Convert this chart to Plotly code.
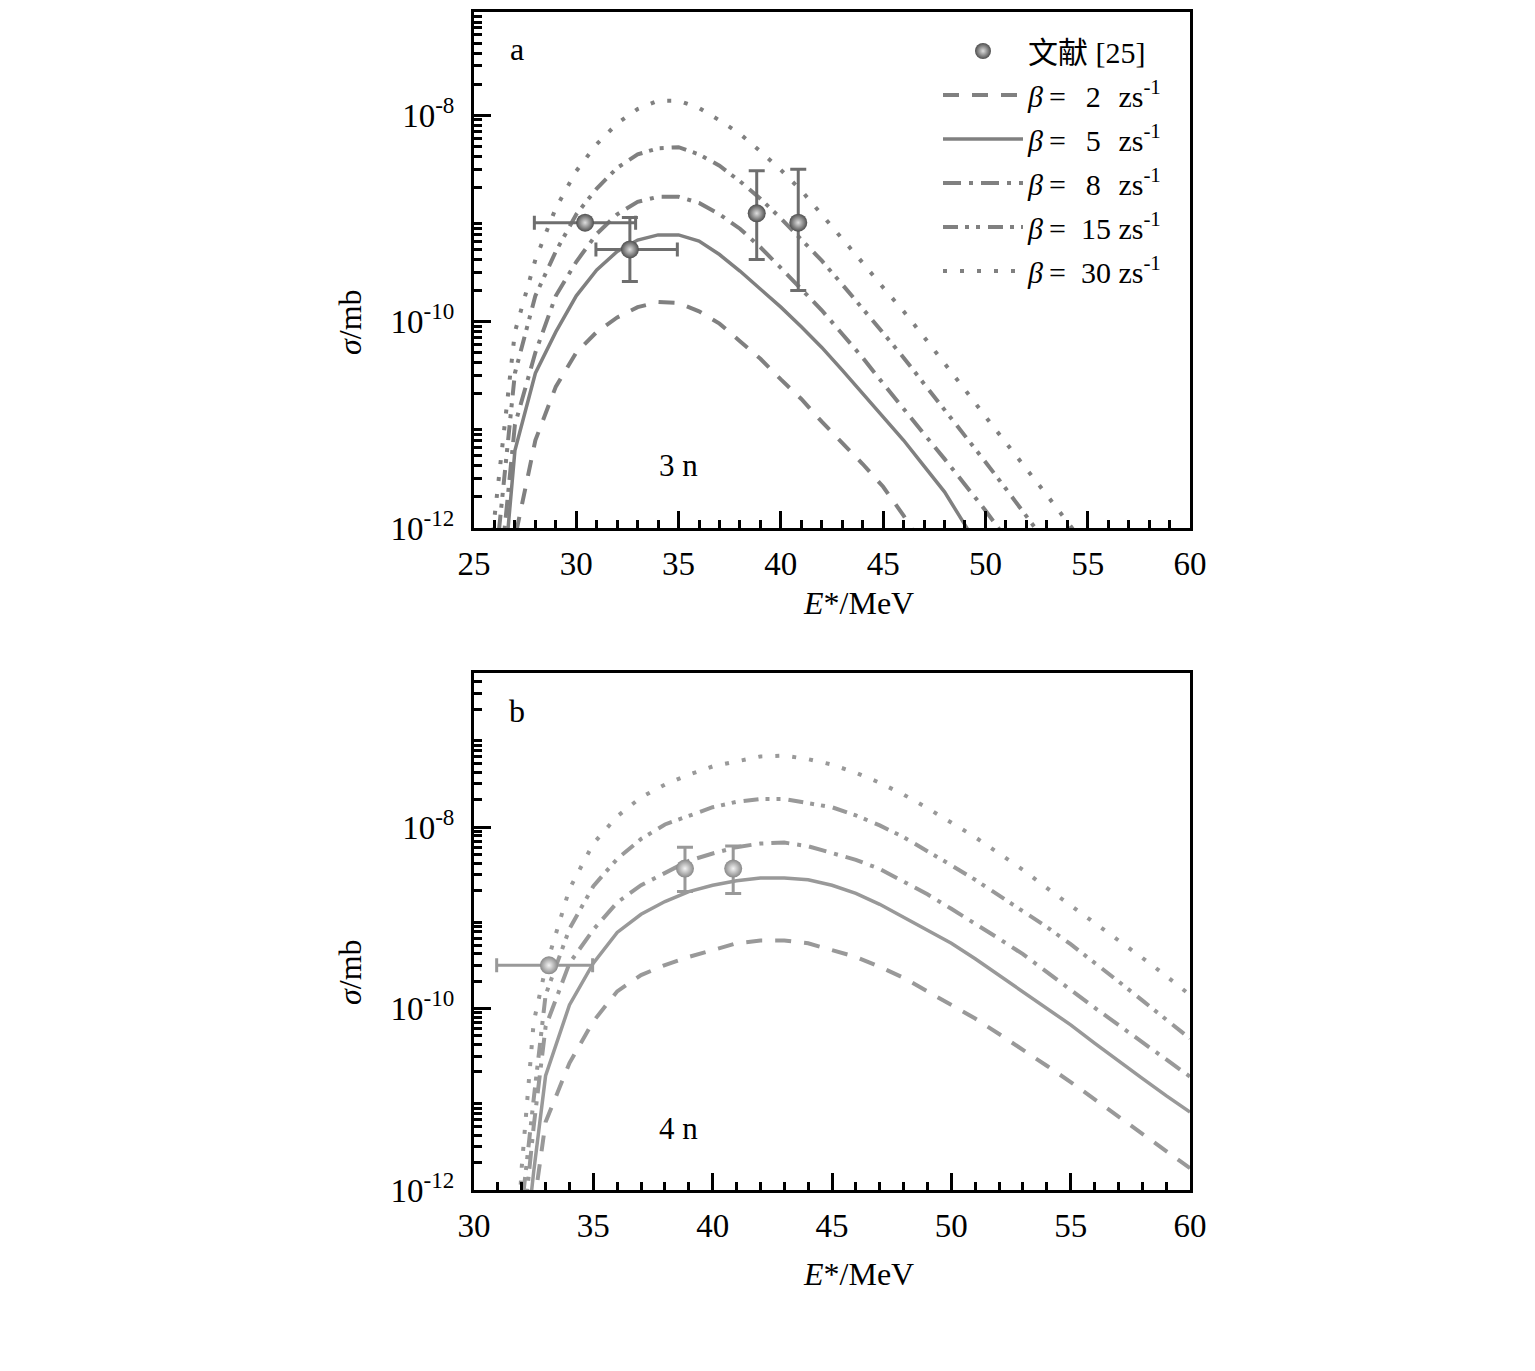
import plotly.graph_objects as go

W, H = 1535, 1371

# ---------------- data ----------------
# Panel a (3n): excitation energy grid, MeV
E_3n = list(range(25, 56))
# log10(sigma / mb) for each friction coefficient beta
lg_3n_b2 = [None, -14.0, -12.1, -11.15, -10.63, -10.3, -10.1, -9.96, -9.86, -9.81, -9.82,
            -9.90, -10.02, -10.19, -10.36, -10.56, -10.75, -10.97, -11.17, -11.38, -11.6,
            -11.88, -12.2, None, None, None, None, None, None, None, None]
lg_3n_b5 = [None, -13.5, -11.25, -10.5, -10.1, -9.75, -9.5, -9.32, -9.21, -9.16, -9.16,
            -9.22, -9.35, -9.51, -9.68, -9.86, -10.05, -10.25, -10.47, -10.7, -10.93,
            -11.15, -11.4, -11.65, -11.97, -12.3, None, None, None, None, None]
lg_3n_b8 = [None, -13.0, -11.0, -10.3, -9.75, -9.42, -9.15, -8.96, -8.84, -8.79, -8.79,
            -8.85, -8.96, -9.1, -9.28, -9.48, -9.68, -9.89, -10.12, -10.35, -10.6,
            -10.85, -11.09, -11.33, -11.58, -11.83, -12.1, None, None, None, None]
lg_3n_b15 = [None, -12.45, -10.5, -9.75, -9.32, -8.96, -8.71, -8.51, -8.38, -8.32, -8.31,
             -8.38, -8.49, -8.64, -8.81, -9.0, -9.2, -9.41, -9.64, -9.87, -10.11,
             -10.35, -10.6, -10.85, -11.1, -11.36, -11.62, -11.88, -12.15, None, None]
lg_3n_b30 = [-14.5, -11.9, -10.1, -9.4, -8.9, -8.54, -8.28, -8.08, -7.94, -7.86, -7.86,
             -7.93, -8.05, -8.18, -8.35, -8.53, -8.73, -8.96, -9.2, -9.43, -9.67,
             -9.9, -10.15, -10.4, -10.66, -10.92, -11.17, -11.43, -11.68, -11.94, -12.2]

# Panel b (4n)
E_4n = [31.5, 32, 32.5] + list(range(33, 61))
lg_4n_b2 = [None, -13.8, -12.2, -11.25, -10.6, -10.14, -9.81, -9.63, -9.52, -9.43, -9.35,
            -9.28, -9.25, -9.25, -9.28, -9.35, -9.43, -9.54, -9.66, -9.81, -9.96,
            -10.11, -10.28, -10.45, -10.63, -10.81, -11.0, -11.19, -11.38, -11.58, -11.76]
lg_4n_b5 = [None, -13.0, -11.8, -10.74, -9.96, -9.5, -9.16, -8.96, -8.82, -8.71, -8.64,
            -8.59, -8.56, -8.56, -8.58, -8.64, -8.73, -8.85, -8.99, -9.13, -9.28,
            -9.45, -9.63, -9.81, -10.0, -10.18, -10.38, -10.58, -10.77, -10.96, -11.14]
lg_4n_b8 = [None, -12.6, -11.3, -10.2, -9.5, -9.13, -8.83, -8.64, -8.5, -8.37, -8.29,
            -8.22, -8.18, -8.17, -8.21, -8.28, -8.36, -8.46, -8.6, -8.74, -8.9,
            -9.06, -9.23, -9.4, -9.6, -9.79, -9.99, -10.18, -10.37, -10.56, -10.75]
lg_4n_b15 = [-14.0, -12.2, -11.0, -9.85, -9.12, -8.65, -8.35, -8.13, -7.97, -7.87, -7.78,
             -7.72, -7.69, -7.69, -7.73, -7.78, -7.87, -7.98, -8.11, -8.26, -8.42,
             -8.58, -8.75, -8.92, -9.1, -9.29, -9.49, -9.7, -9.91, -10.12, -10.33]
lg_4n_b30 = [-14.0, -11.75, -10.15, -9.55, -8.68, -8.18, -7.88, -7.67, -7.53, -7.42, -7.33,
             -7.27, -7.22, -7.21, -7.25, -7.31, -7.40, -7.51, -7.64, -7.79, -7.95,
             -8.11, -8.29, -8.47, -8.67, -8.86, -9.05, -9.24, -9.44, -9.64, -9.85]

# Experimental data, Ref. [25]
exp3_E = [30.43, 32.62, 38.82, 40.85]
exp3_sig = [9.1e-10, 5.0e-10, 1.12e-9, 9.1e-10]
exp3_sig_hi = [9.1e-10, 1.02e-9, 2.9e-9, 3.0e-9]
exp3_sig_lo = [9.1e-10, 2.45e-10, 4.0e-10, 2.0e-10]
exp3_E_lo = [27.95, 30.96, 38.82, 40.85]
exp3_E_hi = [32.9, 34.94, 38.82, 40.85]

exp4_E = [33.14, 38.84, 40.86]
exp4_sig = [3.0e-10, 3.5e-9, 3.5e-9]
exp4_sig_hi = [3.0e-10, 6.0e-9, 6.2e-9]
exp4_sig_lo = [3.0e-10, 1.95e-9, 1.86e-9]
exp4_E_lo = [30.95, 38.84, 40.86]
exp4_E_hi = [34.97, 38.84, 40.86]

beta_labels = ["<i>β</i>\u2009=\u2002\u20062\u2002\u200azs<sup>-1</sup>",
               "<i>β</i>\u2009=\u2002\u20065\u2002\u200azs<sup>-1</sup>",
               "<i>β</i>\u2009=\u2002\u20068\u2002\u200azs<sup>-1</sup>",
               "<i>β</i>\u2009=\u200215 zs<sup>-1</sup>",
               "<i>β</i>\u2009=\u200230 zs<sup>-1</sup>"]
ref_label = "文献 [25]"

# ---------------- styles ----------------
FONT = "Liberation Serif, Noto Sans CJK SC"
dashes = ["16px,13px", "solid", "18px,8px,4px,8px", "15px,7px,4px,7px,4px,8px", "4px,13px"]
widths = [4, 3.5, 4, 4, 4]
col_a, col_b = "#808080", "#999999"


def to_sig(lg):
    return [None if v is None else 10 ** v for v in lg]


fig = go.Figure()

series_a = [lg_3n_b2, lg_3n_b5, lg_3n_b8, lg_3n_b15, lg_3n_b30]
series_b = [lg_4n_b2, lg_4n_b5, lg_4n_b8, lg_4n_b15, lg_4n_b30]

for i, s in enumerate(series_a):
    fig.add_trace(go.Scatter(x=E_3n, y=to_sig(s), mode="lines", name=beta_labels[i],
                             line=dict(color=col_a, width=widths[i], dash=dashes[i]),
                             xaxis="x", yaxis="y", legendrank=2 + i,
                             legendgroup="g%d" % i, connectgaps=False))
for i, s in enumerate(series_b):
    fig.add_trace(go.Scatter(x=E_4n, y=to_sig(s), mode="lines", showlegend=False,
                             line=dict(color=col_b, width=widths[i], dash=dashes[i]),
                             xaxis="x2", yaxis="y2"))


def err(vals, hi, lo):
    return [h - v for v, h in zip(vals, hi)], [v - l for v, l in zip(vals, lo)]


p3, m3 = err(exp3_sig, exp3_sig_hi, exp3_sig_lo)
px3, mx3 = err(exp3_E, exp3_E_hi, exp3_E_lo)
fig.add_trace(go.Scatter(
    x=exp3_E, y=exp3_sig, mode="markers", name=ref_label, legendrank=1, legendgroup="ref",
    marker=dict(symbol="circle", size=18, color="#4e4e4e",
                gradient=dict(type="radial", color="#dedede"), line=dict(width=0)),
    error_y=dict(type="data", symmetric=False, array=p3, arrayminus=m3,
                 color="#6e6e6e", thickness=3, width=8),
    error_x=dict(type="data", symmetric=False, array=px3, arrayminus=mx3,
                 color="#6e6e6e", thickness=3, width=7),
    xaxis="x", yaxis="y"))

p4, m4 = err(exp4_sig, exp4_sig_hi, exp4_sig_lo)
px4, mx4 = err(exp4_E, exp4_E_hi, exp4_E_lo)
fig.add_trace(go.Scatter(
    x=exp4_E, y=exp4_sig, mode="markers", showlegend=False,
    marker=dict(symbol="circle", size=18, color="#888888",
                gradient=dict(type="radial", color="#f4f4f4"), line=dict(width=0)),
    error_y=dict(type="data", symmetric=False, array=p4, arrayminus=m4,
                 color="#999999", thickness=3, width=8),
    error_x=dict(type="data", symmetric=False, array=px4, arrayminus=mx4,
                 color="#999999", thickness=3, width=7),
    xaxis="x2", yaxis="y2"))

# ---------------- axes ----------------
xdom = [474 / W, 1190 / W]
ydom_a = [1 - 528 / H, 1 - 12 / H]
ydom_b = [1 - 1190 / H, 1 - 673 / H]

tickfont = dict(family=FONT, size=33, color="black")


def xaxis(rng, anchor):
    return dict(domain=xdom, range=rng, anchor=anchor, automargin=False,
                tickmode="array", tickvals=list(range(rng[0], rng[1] + 1, 5)),
                ticks="inside", ticklen=17, tickwidth=3, tickcolor="black",
                minor=dict(dtick=1, ticks="inside", ticklen=8, tickwidth=3, tickcolor="black",
                           showgrid=False),
                showline=True, linewidth=3, linecolor="black", mirror=True,
                showgrid=False, zeroline=False, tickfont=tickfont, ticklabelstandoff=4)


def yaxis(rng, dom, anchor):
    labelled = [-12, -10, -8]
    decades = list(range(-12, int(rng[1]) + 1))
    minor_vals = [m * 10.0 ** d for d in decades for m in range(2, 10)]
    return dict(domain=dom, type="log", anchor=anchor, range=rng, automargin=False,
                tickmode="array", tickvals=[10.0 ** d for d in labelled],
                ticktext=["10<sup>%d</sup>" % d for d in labelled],
                ticks="inside", ticklen=17, tickwidth=3, tickcolor="black",
                minor=dict(tickmode="array", tickvals=minor_vals, ticks="inside",
                           ticklen=8, tickwidth=2.5, tickcolor="black", showgrid=False),
                showline=True, linewidth=3, linecolor="black", mirror=True,
                showgrid=False, zeroline=False, tickfont=tickfont, ticklabelstandoff=10)


def yaxis_unlabelled(rng, overlay, anchor, odd):
    return dict(overlaying=overlay, type="log", anchor=anchor, range=rng, side="left",
                automargin=False, tickmode="array", tickvals=[10.0 ** d for d in odd],
                showticklabels=False, ticks="inside", ticklen=17, tickwidth=3,
                tickcolor="black", showline=False, showgrid=False, zeroline=False)


rng_a = [-12, -7]
rng_b = [-12, -6.3]

fig.update_layout(
    width=W, height=H, margin=dict(l=0, r=0, t=0, b=0, autoexpand=False),
    paper_bgcolor="white", plot_bgcolor="white",
    xaxis=xaxis([25, 60], "y"), yaxis=yaxis(rng_a, ydom_a, "x"),
    xaxis2=xaxis([30, 60], "y2"), yaxis2=yaxis(rng_b, ydom_b, "x2"),
    yaxis3=yaxis_unlabelled(rng_a, "y", "x", [-11, -9, -7]),
    yaxis4=yaxis_unlabelled(rng_b, "y2", "x2", [-11, -9, -7]),
    showlegend=True,
    legend=dict(x=938 / W, y=1 - 25 / H, xanchor="left", yanchor="top",
                bgcolor="rgba(0,0,0,0)", borderwidth=0, itemwidth=80,
                tracegroupgap=2, font=dict(family=FONT, size=30, color="black")),
)


def ann(text, x, y, size=31, angle=0):
    fig.add_annotation(text=text, x=x / W, y=1 - y / H, xref="paper", yref="paper",
                       showarrow=False, textangle=angle, xanchor="center", yanchor="middle",
                       font=dict(family=FONT, size=size, color="black"))


ann("a", 517, 49, 32)
ann("b", 517, 711, 32)
ann("3 n", 678, 465)
ann("4 n", 678, 1128)
ann("<i>E</i>*/MeV", 858, 603, 32)
ann("<i>E</i>*/MeV", 858, 1274, 32)
ann("<i>σ</i>/mb", 350, 322, 32, -90)
ann("<i>σ</i>/mb", 350, 972, 32, -90)

fig.write_html("out.html", config={"displayModeBar": False},
               post_script="document.body.style.margin='0';")
